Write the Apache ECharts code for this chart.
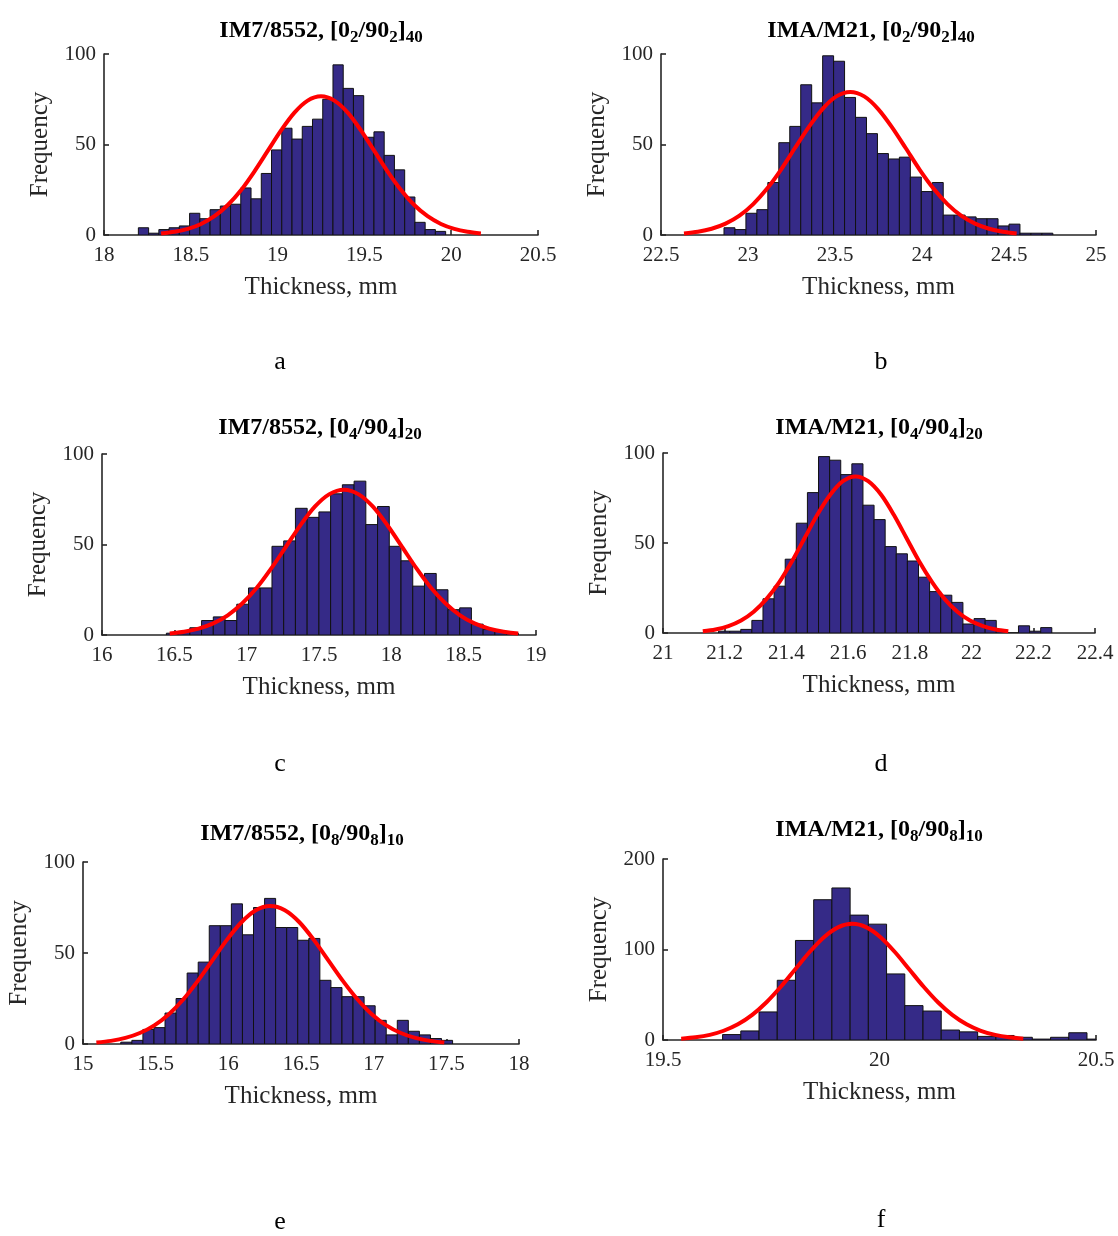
<!DOCTYPE html>
<html><head><meta charset="utf-8">
<script src="https://cdn.jsdelivr.net/npm/echarts@6/dist/echarts.min.js"></script>
<style>html,body{margin:0;padding:0;background:#fff}#c{width:1118px;height:1236px}</style>
</head><body><div id="c"></div>
<script>
// ---- Data ----
// Panel a: IM7/8552 [0_2/90_2]_40
const aBinStart = 18.198, aBinWidth = 0.059;
const aCounts = [4,1,3,4,5,12,9,14,16,17,26,20,34,47,59,53,60,64,75,94,81,77,54,57,44,36,21,7,3,2];
const aCurveX = [18.329,18.406,18.483,18.559,18.636,18.713,18.790,18.866,18.943,19.020,19.097,19.173,19.250,19.327,19.404,19.480,19.557,19.634,19.711,19.787,19.864,19.941,20.018,20.094,20.171];
const aCurveY = [0.85,1.75,3.37,6.09,10.37,16.57,24.87,35.07,46.46,57.82,67.6,74.24,76.6,74.24,67.6,57.82,46.46,35.07,24.87,16.57,10.37,6.09,3.37,1.75,0.85];
// Panel b: IMA/M21 [0_2/90_2]_40
const bBinStart = 22.862, bBinWidth = 0.063;
const bCounts = [4,3,12,14,29,51,60,83,73,99,96,76,65,56,45,42,43,32,24,29,11,11,10,9,9,5,6,1,1,1];
const bCurveX = [22.632,22.712,22.791,22.871,22.951,23.030,23.110,23.190,23.269,23.349,23.429,23.508,23.588,23.668,23.747,23.827,23.907,23.986,24.066,24.146,24.225,24.305,24.385,24.464,24.544];
const bCurveY = [0.88,1.8,3.47,6.29,10.69,17.09,25.65,36.17,47.92,59.63,69.72,76.57,79,76.57,69.72,59.63,47.92,36.17,25.65,17.09,10.69,6.29,3.47,1.8,0.88];
// Panel c: IM7/8552 [0_4/90_4]_20
const cBinStart = 16.445, cBinWidth = 0.0811;
const cCounts = [1,2,4,8,10,8,17,26,26,49,52,70,65,68,78,83,85,61,71,49,41,27,34,25,14,15,6,3,2,1];
const cCurveX = [16.468,16.568,16.668,16.769,16.869,16.969,17.070,17.170,17.271,17.371,17.471,17.572,17.672,17.772,17.873,17.973,18.074,18.174,18.274,18.375,18.475,18.575,18.676,18.776,18.877];
const cCurveY = [0.89,1.83,3.53,6.39,10.87,17.37,26.07,36.76,48.7,60.61,70.87,77.83,80.3,77.83,70.87,60.61,48.7,36.76,26.07,17.37,10.87,6.39,3.53,1.83,0.89];
// Panel d: IMA/M21 [0_4/90_4]_20
const dBinStart = 21.18, dBinWidth = 0.036;
const dCounts = [1,1,2,7,19,26,41,61,78,98,96,88,94,71,63,48,44,40,31,23,21,17,5,8,7,1,0,4,1,3];
const dCurveX = [21.129,21.170,21.212,21.253,21.294,21.335,21.377,21.418,21.459,21.500,21.542,21.583,21.624,21.665,21.707,21.748,21.789,21.830,21.872,21.913,21.954,21.995,22.037,22.078,22.119];
const dCurveY = [0.97,1.98,3.82,6.92,11.78,18.82,28.25,39.83,52.77,65.67,76.78,84.32,87,84.32,76.78,65.67,52.77,39.83,28.25,18.82,11.78,6.92,3.82,1.98,0.97];
// Panel e: IM7/8552 [0_8/90_8]_10
const eBinStart = 15.26, eBinWidth = 0.0761;
const eCounts = [1,2,8,9,17,25,39,45,65,65,77,60,75,80,64,64,57,58,35,31,26,26,21,13,5,13,7,5,3,2];
const eCurveX = [15.092,15.192,15.292,15.391,15.491,15.591,15.691,15.790,15.890,15.990,16.090,16.189,16.289,16.389,16.489,16.588,16.688,16.788,16.888,16.987,17.087,17.187,17.287,17.386,17.486];
const eCurveY = [0.84,1.73,3.33,6.03,10.26,16.39,24.61,34.7,45.98,57.22,66.89,73.47,75.8,73.47,66.89,57.22,45.98,34.7,24.61,16.39,10.26,6.03,3.33,1.73,0.84];
// Panel f: IMA/M21 [0_8/90_8]_10
const fBinStart = 19.6376, fBinWidth = 0.04208;
const fCounts = [6,10,31,66,110,155,168,138,128,73,38,32,11,9,4,5,3,1,3,8,1];
const fCurveX = [19.542,19.575,19.608,19.640,19.673,19.706,19.739,19.772,19.805,19.838,19.871,19.904,19.937,19.970,20.003,20.036,20.069,20.102,20.135,20.168,20.201,20.234,20.267,20.299,20.332];
const fCurveY = [1.43,2.93,5.64,10.22,17.38,27.77,41.69,58.79,77.88,96.92,113.31,124.45,128.4,124.45,113.31,96.92,77.88,58.79,41.69,27.77,17.38,10.22,5.64,2.93,1.43];

// Axis ranges / ticks
const xRanges = [[18,20.5,0.5],[22.5,25,0.5],[16,19,0.5],[21,22.4,0.2],[15,18,0.5],[19.5,20.5,0.5]];
const yRanges = [[0,100,50],[0,100,50],[0,100,50],[0,100,50],[0,100,50],[0,200,100]];
const panelLetters = ['a','b','c','d','e','f'];
const titleMaterial = ['IM7/8552','IMA/M21','IM7/8552','IMA/M21','IM7/8552','IMA/M21'];
const titleLayer = [['2','40'],['2','40'],['4','20'],['4','20'],['8','10'],['8','10']];

// ---- Layout ----
const grids = [
  {left:104, top:54, width:434, height:181},
  {left:661, top:54, width:435, height:181},
  {left:102, top:454, width:434, height:181},
  {left:663, top:453, width:432, height:180},
  {left:83, top:862, width:436, height:182},
  {left:663, top:859, width:433, height:181}
];
const titlePos = [[321,19],[871,19],[320,416],[879,416],[302,822],[879,818]];
const letterPos = [[280,362],[881,362],[280,764],[881,764],[280,1222],[881,1220]];

const panels = [
  [aBinStart,aBinWidth,aCounts,aCurveX,aCurveY],
  [bBinStart,bBinWidth,bCounts,bCurveX,bCurveY],
  [cBinStart,cBinWidth,cCounts,cCurveX,cCurveY],
  [dBinStart,dBinWidth,dCounts,dCurveX,dCurveY],
  [eBinStart,eBinWidth,eCounts,eCurveX,eCurveY],
  [fBinStart,fBinWidth,fCounts,fCurveX,fCurveY]
];

const FONT = "'Liberation Serif','Times New Roman',serif";
const AX = '#262626';
const fmt = v => String(+(+v).toFixed(2));

const xAxes = [], yAxes = [], series = [], graphics = [];
panels.forEach((p, i) => {
  const [x0, w, counts, cx, cy] = p;
  xAxes.push({
    type:'value', gridIndex:i, min:xRanges[i][0], max:xRanges[i][1], interval:xRanges[i][2],
    name:'Thickness, mm', nameLocation:'middle', nameGap:40,
    nameTextStyle:{fontFamily:FONT, fontSize:25, color:AX},
    axisLine:{show:true, onZero:false, lineStyle:{color:AX, width:1.6}},
    axisTick:{show:true, inside:true, length:5, lineStyle:{color:AX, width:1.6}},
    axisLabel:{fontFamily:FONT, fontSize:21, color:AX, margin:10, formatter:fmt, showMinLabel:true, showMaxLabel:true},
    splitLine:{show:false}
  });
  yAxes.push({
    type:'value', gridIndex:i, min:yRanges[i][0], max:yRanges[i][1], interval:yRanges[i][2],
    name:'Frequency', nameLocation:'middle', nameGap:51, nameRotate:90,
    nameTextStyle:{fontFamily:FONT, fontSize:25, color:AX},
    axisLine:{show:true, onZero:false, lineStyle:{color:AX, width:1.6}},
    axisTick:{show:true, inside:true, length:5, lineStyle:{color:AX, width:1.6}},
    axisLabel:{fontFamily:FONT, fontSize:21, color:AX, margin:8, showMinLabel:true, showMaxLabel:true},
    splitLine:{show:false}
  });
  series.push({
    type:'custom', xAxisIndex:i, yAxisIndex:i, clip:true, silent:true,
    data: counts.map((c, k) => [x0 + k*w, x0 + (k+1)*w, c]),
    encode:{x:[0,1], y:2},
    renderItem: (params, api) => {
      const a = api.coord([api.value(0), api.value(2)]);
      const b = api.coord([api.value(1), 0]);
      return {type:'rect', shape:{x:a[0], y:a[1], width:b[0]-a[0], height:b[1]-a[1]},
        style:{fill:'#352A87', stroke:'#111', lineWidth:1}};
    }
  });
  series.push({
    type:'line', xAxisIndex:i, yAxisIndex:i, silent:true, smooth:0.3, showSymbol:false, symbol:'none',
    data: cx.map((x, k) => [x, cy[k]]), z:5,
    lineStyle:{color:'#ff0000', width:4}
  });
  const sub = titleLayer[i];
  graphics.push({
    type:'text', x:titlePos[i][0], y:titlePos[i][1],
    style:{
      text:'{b|' + titleMaterial[i] + ', [0}{s|' + sub[0] + '}{b|/90}{s|' + sub[0] + '}{b|]}{s|' + sub[1] + '}',
      align:'center', verticalAlign:'top',
      rich:{
        b:{fontFamily:FONT, fontWeight:'bold', fontSize:24, lineHeight:27, verticalAlign:'top', fill:'#000'},
        s:{fontFamily:FONT, fontWeight:'bold', fontSize:17, lineHeight:12, verticalAlign:'bottom', fill:'#000'}
      }
    }
  });
  graphics.push({
    type:'text', x:letterPos[i][0], y:letterPos[i][1],
    style:{text:panelLetters[i], fontFamily:FONT, fontSize:26, fill:'#000', align:'center', verticalAlign:'middle'}
  });
});

const chart = echarts.init(document.getElementById('c'), null, {renderer:'canvas'});
chart.setOption({
  animation:false,
  backgroundColor:'#fff',
  grid: grids.map(g => Object.assign({containLabel:false, outerBoundsMode:'none'}, g)),
  xAxis: xAxes, yAxis: yAxes, series: series, graphic: graphics
});
</script></body></html>
